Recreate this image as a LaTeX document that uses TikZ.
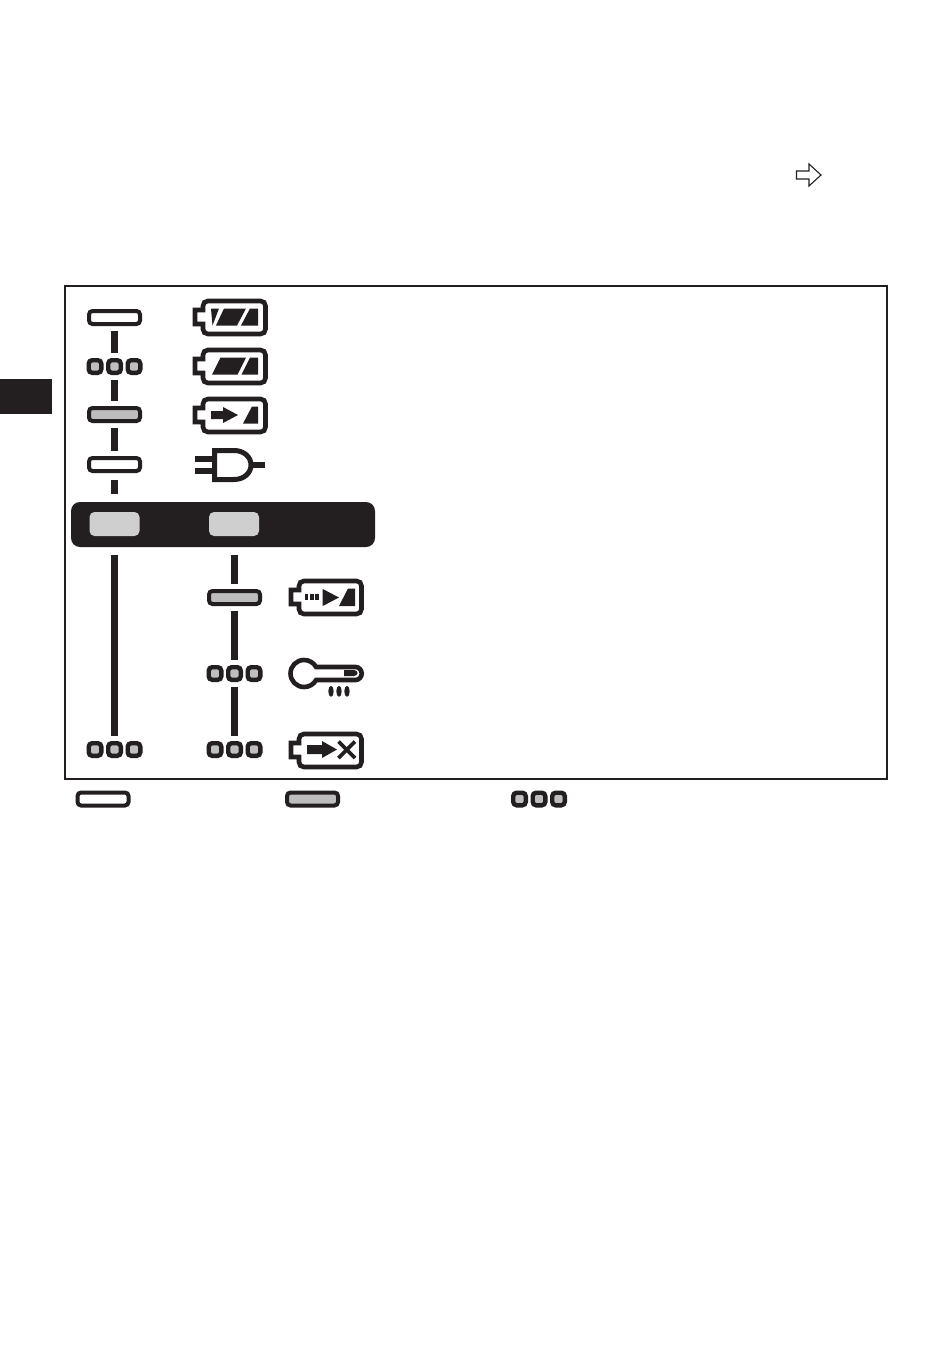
\documentclass[tikz,border=0pt]{standalone}
\definecolor{ink}{HTML}{231F20}
\definecolor{pad}{HTML}{CFCFCF}
\definecolor{lit}{HTML}{BDBDBD}
\definecolor{dotg}{HTML}{BFBFBF}
\tikzset{
  pill/.style={draw=ink,line width=4pt,rounded corners=3.5pt,minimum width=51pt,minimum height=13pt,inner sep=0pt,fill=white},
  litpill/.style={pill,fill=lit},
  dotlamp/.style={draw=ink,line width=4.4pt,rounded corners=3.5pt,minimum width=12.6pt,minimum height=12.6pt,inner sep=0pt,fill=dotg},
  padbox/.style={fill=pad,rounded corners=5pt,minimum width=50pt,minimum height=24pt,inner sep=0pt},
  barbox/.style={fill=ink,rounded corners=9pt,minimum width=304pt,minimum height=45pt,inner sep=0pt},
  link/.style={draw=ink,line width=6.5pt,shorten <=5pt,shorten >=5.5pt},
  inkfill/.style={fill=ink,draw=none},
  outline/.style={draw=ink,line width=4.6pt,fill=white,line join=miter},
  batbody/.pic={
    \draw[outline] (2,11) -- (10,11) -- (10,7) .. controls (10,4) and (12,2) .. (15,2) -- (67.5,2)
      .. controls (70.5,2) and (72.5,4) .. (72.5,7) -- (72.5,30) .. controls (72.5,33) and (70.5,35) .. (67.5,35)
      -- (15,35) .. controls (12,35) and (10,33) .. (10,30) -- (10,25) -- (2,25) -- cycle;
  }
}
\begin{document}
\begin{tikzpicture}[x=1pt,y=-1pt]
\useasboundingbox (0,0) rectangle (950,1348);
\fill[white] (0,0) rectangle (950,1348);
% side tab and frame
\fill[ink] (0,379) rectangle (52,414);
\draw[ink,line width=2pt] (65,286) rectangle (887,778.5);
% cross reference arrow
\draw[ink,line width=1.1pt,fill=white,line join=miter] (796.5,171) -- (809,171) -- (809,164) -- (821,175) -- (809,186) -- (809,179) -- (796.5,179) -- cycle;
% left column lamps
\node[pill]    (p1) at (114.5,317.5) {};
\node[dotlamp] (d1b) at (95,366.5) {};
\node[dotlamp] (d1) at (114.5,366.5) {};
\node[dotlamp] (d1c) at (134,366.5) {};
\node[litpill] (p2) at (114.5,414.5) {};
\node[pill]    (p3) at (114.5,464.5) {};
\node[barbox]  (bar) at (223,524.5) {};
\node[padbox]  (padl) at (114.5,524) {};
\node[padbox]  (padr) at (234,524) {};
\node[dotlamp] (d2b) at (95,749.5) {};
\node[dotlamp] (d2) at (114.5,749.5) {};
\node[dotlamp] (d2c) at (134,749.5) {};
% right column lamps
\node[litpill] (p4) at (234.5,597.5) {};
\node[dotlamp] (d3b) at (215,673.5) {};
\node[dotlamp] (d3) at (234.5,673.5) {};
\node[dotlamp] (d3c) at (254,673.5) {};
\node[dotlamp] (d4b) at (215,749.5) {};
\node[dotlamp] (d4) at (234.5,749.5) {};
\node[dotlamp] (d4c) at (254,749.5) {};
% connectors
\draw[link] (p1.south) -- (d1.north);
\draw[link] (d1.south) -- (p2.north);
\draw[link] (p2.south) -- (p3.north);
\draw[link,shorten <=7pt,shorten >=8pt] (p3.south) -- (p3 |- bar.north);
\draw[link,shorten <=8pt] (padl |- bar.south) -- (d2.north);
\draw[link,shorten <=8pt] (p4 |- bar.south) -- (p4.north);
\draw[link] (p4.south) -- (d3.north);
\draw[link] (d3.south) -- (d4.north);
% legend
\node[pill]    (l1) at (103,799) {};
\node[litpill] (l2) at (312.5,799) {};
\node[dotlamp] (l3b) at (519.5,799) {};
\node[dotlamp] (l3) at (539,799) {};
\node[dotlamp] (l3c) at (558.5,799) {};
% battery: full
\pic at (193,299) {batbody};
\fill[inkfill] (211,308.5) -- (219,308.5) -- (212.5,325.5) -- cycle;
\fill[inkfill] (224,308.5) -- (246,308.5) -- (237,325.5) -- (216,325.5) -- cycle;
\fill[inkfill] (241,325.5) -- (250,308.5) -- (258,308.5) -- (258,325.5) -- cycle;
% battery: partial
\pic at (193,348) {batbody};
\fill[inkfill] (212,374.5) -- (220.5,357.5) -- (246,357.5) -- (237.5,374.5) -- cycle;
\fill[inkfill] (241.5,374.5) -- (250,357.5) -- (258,357.5) -- (258,374.5) -- cycle;
% battery: charging
\pic at (193,397) {batbody};
\fill[inkfill] (211,411) -- (223,411) -- (223,407) -- (238,415) -- (223,423) -- (223,419) -- (211,419) -- cycle;
\fill[inkfill] (243,423.5) -- (252,406.5) -- (258,406.5) -- (258,423.5) -- cycle;
% plug
\fill[inkfill] (195,455.7) rectangle (213,461.7);
\fill[inkfill] (195,467.7) rectangle (213,473.5);
\fill[inkfill] (250,462) rectangle (265,468);
\draw[ink,line width=5pt,fill=white] (214.5,450.5) -- (234,450.5) .. controls (244,450.5) and (251,457) .. (251,465) .. controls (251,473) and (244,479.5) .. (234,479.5) -- (214.5,479.5) -- cycle;
% battery: trickle
\pic at (289,579) {batbody};
\fill[inkfill] (305,594) rectangle (308.4,600);
\fill[inkfill] (310.2,594) rectangle (313.6,600);
\fill[inkfill] (315.4,594) rectangle (318.8,600);
\fill[inkfill] (322.7,589) -- (339,597.5) -- (322.7,606) -- cycle;
\fill[inkfill] (339,606) -- (348,588.5) -- (355,588.5) -- (355,606) -- cycle;
% temperature key
\draw[ink,line width=4.6pt,fill=white] (316.1,667) -- (355.5,667) .. controls (359,667) and (361.7,670) .. (361.7,673.5) .. controls (361.7,677) and (359,680) .. (355.5,680) -- (316.1,680) .. controls (313.5,684.5) and (309,687) .. (304,687) .. controls (296.5,687) and (290.5,681) .. (290.5,673.5) .. controls (290.5,666) and (296.5,660) .. (304,660) .. controls (309,660) and (313.5,662.5) .. (316.1,667) -- cycle;
\fill[ink] (344,670) -- (354,670) .. controls (356,670) and (357.5,671.5) .. (357.5,673) .. controls (357.5,674.5) and (356,676) .. (354,676) -- (344,676) -- cycle;
\fill[ink] (331,691.3) ellipse [x radius=2.7,y radius=5.5];
\fill[ink] (339,691.3) ellipse [x radius=2.7,y radius=5.5];
\fill[ink] (347,691.3) ellipse [x radius=2.7,y radius=5.5];
% battery: fault
\pic at (289,732) {batbody};
\fill[inkfill] (307,745) -- (322,745) -- (322,741) -- (337,749.5) -- (322,758) -- (322,754) -- (307,754) -- cycle;
\draw[ink,line width=3.8pt] (338.5,741.5) -- (355,758);
\draw[ink,line width=3.8pt] (355,741.5) -- (338.5,758);
\end{tikzpicture}
\end{document}
